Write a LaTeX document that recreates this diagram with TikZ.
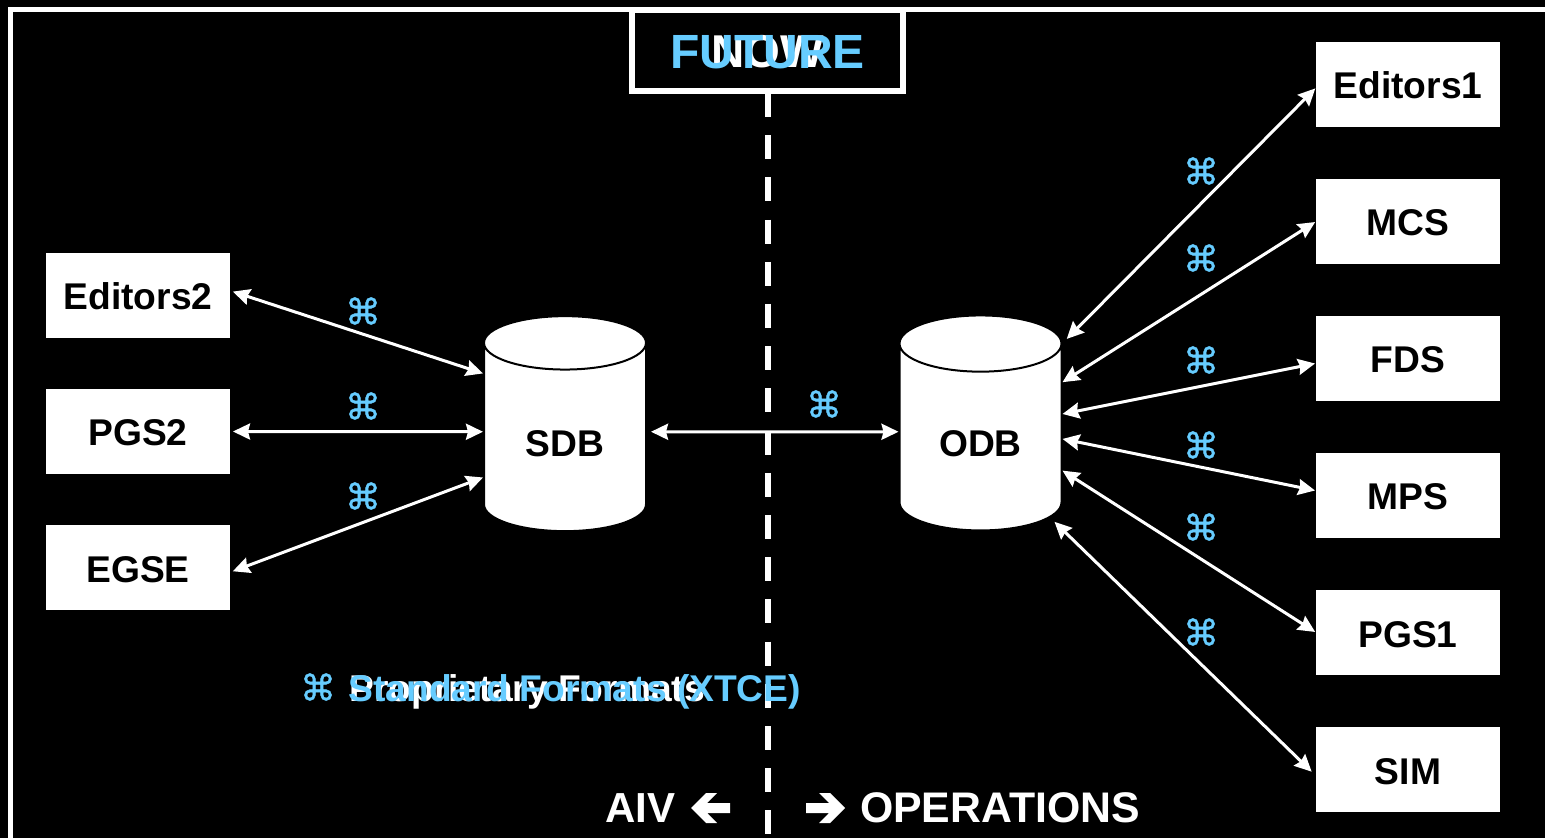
\documentclass[tikz,border=0pt]{standalone}
\usepackage{fontspec}
\setmainfont{Liberation Sans}
\newfontfamily\symbfont[FakeBold=1]{DejaVu Sans}
\usepackage{xcolor}
\usetikzlibrary{shapes.geometric, arrows.meta, positioning}
\definecolor{xtceblue}{HTML}{66CCFF}

\begin{document}
\begin{tikzpicture}[x=0.5pt, y=-0.5pt, >={Stealth[length=8.5pt, width=8pt, inset=1pt]}, font=\fontsize{18.6}{22}\bfseries,
    toolbox/.style={rectangle, fill=white, text=black, minimum width=92pt, minimum height=42.5pt, inner sep=0pt, outer sep=0pt, text height=14.5pt, text depth=0pt},
    dbase/.style={cylinder, shape border rotate=90, aspect=0.68, draw=black, line width=1pt, cylinder uses custom fill, cylinder body fill=white, cylinder end fill=white, text=black, minimum width=81pt, minimum height=107.5pt, inner sep=0pt, text height=18.8pt, text depth=0pt},
    link/.style={<->, white, line width=1.5pt, shorten <=0.5pt, shorten >=0pt},
    fmt/.style={text=xtceblue, font=\fontsize{18}{20}\symbfont, inner sep=0pt}]
    \useasboundingbox (0,0) rectangle (1545,838);
    \fill[black] (0,0) rectangle (1545,838);

    % Frame and divider
    \draw[white, line width=2.5pt] (10.5,838) -- (10.5,10) -- (1545,10);
    \draw[white, line width=3pt, dash pattern=on 12pt off 9.1pt] (768,93) -- (768,838);
    \node (nowbox) at (767.5,50.5) [draw=white, fill=black, line width=3pt, minimum width=135.5pt, minimum height=40.5pt, inner sep=0pt] {};
    \node (nowlabel) at (767.5,52) [text=white, font=\fontsize{23}{28}\bfseries] {NOW};
    \node (futurelabel) at (767.5,52) [text=xtceblue, font=\fontsize{24}{28}\bfseries] {FUTURE};

    % Left tools
    \node (editorsb) at (138,295.5) [toolbox] {Editors2};
    \node (pgsb) [toolbox, below=25.5pt of editorsb] {PGS2};
    \node (egse) [toolbox, below=25.5pt of pgsb] {EGSE};

    % Databases
    \node (sdb) at (565,437.5) [dbase] {SDB};
    \node (odb) at (980.5,437.5) [dbase] {ODB};

    % Right tools
    \node (editorsa) at (1408,84.5) [toolbox] {Editors1};
    \node (mcs) [toolbox, below=26pt of editorsa] {MCS};
    \node (fds) [toolbox, below=26pt of mcs] {FDS};
    \node (mps) [toolbox, below=26pt of fds] {MPS};
    \node (pgsa) [toolbox, below=26pt of mps] {PGS1};
    \node (sim) [toolbox, below=26pt of pgsa] {SIM};

    % Arrows
    \draw[link, shorten <=1.5pt] (editorsb.3) -- (sdb.142.3);
    \draw[link, shorten <=1.5pt] (pgsb.east) -- (sdb.176.8);
    \draw[link, shorten <=1.5pt] (egse.-3) -- (sdb.206);
    \draw[link, shorten <=2pt] (sdb.4.6) -- (odb.176.8);
    \draw[link, shorten >=3pt] (editorsa.182) -- (odb.49.3);
    \draw[link] (mcs.west) -- (odb.34.7);
    \draw[link] (fds.183) -- (odb.16.7);
    \draw[link] (mps.177) -- (odb.-1.8);
    \draw[link] (pgsa.west) -- (odb.-22.9);
    \draw[link, shorten <=3pt, shorten >=3pt] (sim.184) -- (odb.-49);

    % Format marks
    \node (marka) at (363,311) [fmt] {⌘};
    \node (markb) at (363,406) [fmt] {⌘};
    \node (markc) at (363,496) [fmt] {⌘};
    \node (markd) at (824,404) [fmt] {⌘};
    \node (marke) at (1201,171) [fmt] {⌘};
    \node (markf) at (1201,258) [fmt] {⌘};
    \node (markg) at (1201,360) [fmt] {⌘};
    \node (markh) at (1201,445) [fmt] {⌘};
    \node (marki) at (1201,527) [fmt] {⌘};
    \node (markj) at (1201,632) [fmt] {⌘};

    % Legend
    \node (markk) at (318,687) [fmt] {⌘};
    \node (proplabel) at (349,701) [anchor=base west, inner sep=0pt, text=white] {Proprietary Formats};
    \node (stdlabel) at (348,701) [anchor=base west, inner sep=0pt, text=xtceblue] {Standard Formats (XTCE)};

    % Bottom labels
    \node (aiv) at (640,808) [text=white, font=\fontsize{21}{25}\bfseries, inner sep=0pt] {AIV};
    \node (ops) at (1000,808) [text=white, font=\fontsize{21.4}{25}\bfseries, inner sep=0pt] {OPERATIONS};
    \fill[white] (691,808) -- ++(15,-15) -- ++(11,0) -- ++(-10,10) -- ++(23,0) -- ++(0,10) -- ++(-23,0) -- ++(10,10) -- ++(-11,0) -- cycle;
    \fill[white] (845,808) -- ++(-15,-15) -- ++(-11,0) -- ++(10,10) -- ++(-23,0) -- ++(0,10) -- ++(23,0) -- ++(-10,10) -- ++(11,0) -- cycle;
\end{tikzpicture}
\end{document}
